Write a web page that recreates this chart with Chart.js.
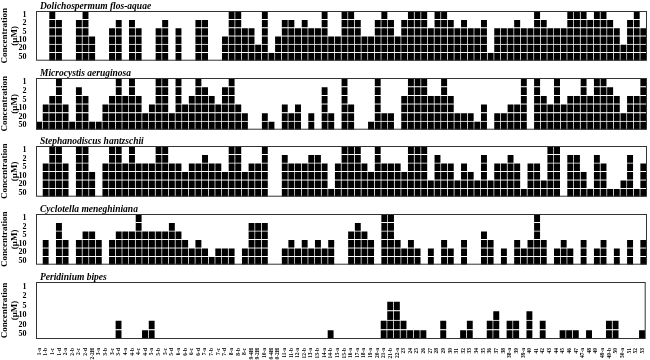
<!DOCTYPE html>
<html>
<head>
<meta charset="utf-8">
<script src="https://cdn.jsdelivr.net/npm/chart.js@4.4.0/dist/chart.umd.min.js"></script>
<style>
  body { margin:0; background:#fff; width:650px; height:360px; overflow:hidden; position:relative; }
  canvas { position:absolute; left:0; }
</style>
</head>
<body>
<script>
// compounds on the x axis, one column each
const compounds = ['1-a','1-b','1-c','1-d','2-a','2-b','2-c','2-d','2-2H',
  '3-a','3-b','3-c','3-d','4-a','4-b','4-c','4-d','5-a','5-b','5-c','5-d',
  '6-a','6-b','6-c','6-d','7-a','7-b','7-c','7-d','8-a','8-b','8-c',
  '9-4H','9-2H','10-a','10-4H','10-2H',
  '11-a','11-b','12-a','12-b','13-a','13-b','14-a','14-b','15-a','15-b','16-a','17-a','18-a','19-a','20-a',
  '21-a','21-b','22-a',
  '23','24','25','26','27','28','29','30','31','32','33','34','35','36','37','38','38-a','39','39-a',
  '40','41','42','43','44','45','46','47','47-a','48','49','49-a','49-b','50','50-a','51','52','53'];

// concentration rows, bottom to top
const concLabels = ['50','20','10','5','2','1'];

// number of filled cells per column (0 = none, 6 = down to 1 µM)
const dolichospermum = [0,0,6,5,0,0,5,6,3,0, 0,4,5,0,5,4,0,0,4,5, 0,4,0,0,5,5,0,0,3,6,
  6,4,4,2,6,1,3,5,5,4, 5,4,4,6,3,3, 6,6,5,3,3,5,6,5,3,5, 6,6,6,4,6,6,5,4,5,4,
  4,5,1,4,4,4,5,4,4,6, 5,4,4,4,6,6,6,5,6,6, 5,4,2,5,6,4];
const microcystis = [1,3,4,6,3,1,5,4,1,1, 3,4,6,4,6,4,2,3,6,6, 2,6,3,4,6,5,4,3,5,6,
  3,2,0,0,2,1,0,3,2,3, 0,2,0,5,2,0, 6,3,0,0,1,6,2,2,0,4, 6,6,6,4,4,6,4,2,2,2,
  1,3,0,2,2,3,3,6,0,6, 4,3,6,3,4,4,6,4,6,6, 5,4,2,4,4,6];
const stephanodiscus = [0,4,6,6,4,0,6,6,3,0, 4,6,6,4,6,4,4,4,6,6, 4,4,3,4,4,5,4,4,3,6,
  6,3,4,4,6,0,0,5,4,4, 4,5,5,4,1,4, 6,6,6,4,3,6,4,4,4,3, 6,6,6,2,5,4,4,2,4,3,
  2,5,2,4,4,5,4,1,4,4, 2,6,6,0,5,5,3,1,5,4, 1,1,2,5,1,4];
const cyclotella = [0,3,0,5,3,0,3,4,4,3, 0,3,4,4,4,6,4,4,4,4, 5,4,3,2,3,2,1,2,2,2,
  0,2,5,5,5,0,0,2,3,2, 3,2,3,2,3,0,0,4,5,4, 3,0,6,6,3,2,3,2,0,2,
  0,3,2,0,3,0,0,4,3,0, 2,0,3,2,3,6,3,0,2,3, 2,0,3,0,2,3,0,2,0,3, 0,3];
const peridinium = [0,0,0,0,0,0,0,0,0,0, 0,0,2,0,0,0,1,2,0,0, 0,0,0,0,0,0,0,0,0,0,
  0,0,0,0,0,0,0,0,0,0, 0,0,0,0,1,0,0,0,0,0, 0,0,2,4,4,2,1,1,1,0,
  0,2,0,0,1,2,0,0,2,3, 0,2,2,0,3,0,2,0,0,1, 1,1,0,1,0,0,2,2,0,0, 0,1];

const panels = [
  { name: 'Dolichospermum flos-aquae', values: dolichospermum, top: 0,   h: 56 },
  { name: 'Microcystis aeruginosa',    values: microcystis,    top: 67,  h: 58 },
  { name: 'Stephanodiscus hantzschii', values: stephanodiscus, top: 135, h: 57 },
  { name: 'Cyclotella meneghiniana',   values: cyclotella,     top: 203, h: 57 },
  { name: 'Peridinium bipes',          values: peridinium,     top: 271, h: 57 }
];

const serif = '"Liberation Serif", "Times New Roman", serif';

// frame round the plot + species name above it
const framePlugin = {
  id: 'frame',
  afterDatasetsDraw(chart, args, opts) {
    const { ctx, chartArea: a } = chart;
    ctx.save();
    ctx.strokeStyle = '#333';
    ctx.lineWidth = 1;
    ctx.strokeRect(a.left + 0.5, a.top + 0.5, a.width - 1, a.height - 1);
    ctx.font = 'italic bold 9.5px ' + serif;
    ctx.fillStyle = '#000';
    ctx.textBaseline = 'alphabetic';
    ctx.fillText(opts.text, a.left + 4, a.top - 2);
    ctx.restore();
  }
};

panels.forEach((p, i) => {
  const last = i === panels.length - 1;
  const cv = document.createElement('canvas');
  cv.width = 650;
  cv.height = 11 + p.h + (last ? 21 : 0);
  cv.style.top = p.top + 'px';
  document.body.appendChild(cv);

  const datasets = concLabels.map((c, k) => ({
    label: c,
    data: p.values.map(v => v > k ? 1 : null),
    backgroundColor: '#000',
    borderColor: '#fff',
    borderWidth: { top: 1, right: 1, bottom: 0, left: 0 },
    borderSkipped: false,
    barPercentage: 1,
    categoryPercentage: 1
  }));

  new Chart(cv, {
    type: 'bar',
    data: { labels: compounds, datasets },
    plugins: [framePlugin],
    options: {
      responsive: false,
      animation: false,
      layout: { padding: { top: 11, right: 3, left: 0, bottom: 0 } },
      plugins: {
        legend: { display: false },
        tooltip: { enabled: false },
        frame: { text: p.name }
      },
      scales: {
        x: {
          stacked: true,
          display: last,
          grid: { display: false },
          border: { display: false },
          ticks: {
            autoSkip: false, minRotation: 90, maxRotation: 90, padding: 1,
            color: '#000', font: { family: serif, size: 5.5, weight: 'bold' }
          },
          afterFit: s => { s.height = last ? 21 : 0; }
        },
        y: {
          stacked: true,
          min: 0, max: 6,
          grid: { display: false },
          border: { display: false },
          afterBuildTicks: s => { s.ticks = [0.5, 1.5, 2.5, 3.5, 4.5, 5.5].map(v => ({ value: v })); },
          ticks: {
            autoSkip: false, padding: 1.5, color: '#000',
            font: { family: serif, size: 8, weight: 'bold' },
            callback: v => concLabels[Math.floor(v)]
          },
          title: {
            display: true, text: ['Concentration', '(\u03bcM)'], color: '#000',
            font: { family: serif, size: 9, weight: 'bold', lineHeight: 1.1 },
            padding: { top: 0, bottom: 0 }
          },
          afterFit: s => { s.width = 36; }
        }
      }
    }
  });
});
</script>
</body>
</html>
